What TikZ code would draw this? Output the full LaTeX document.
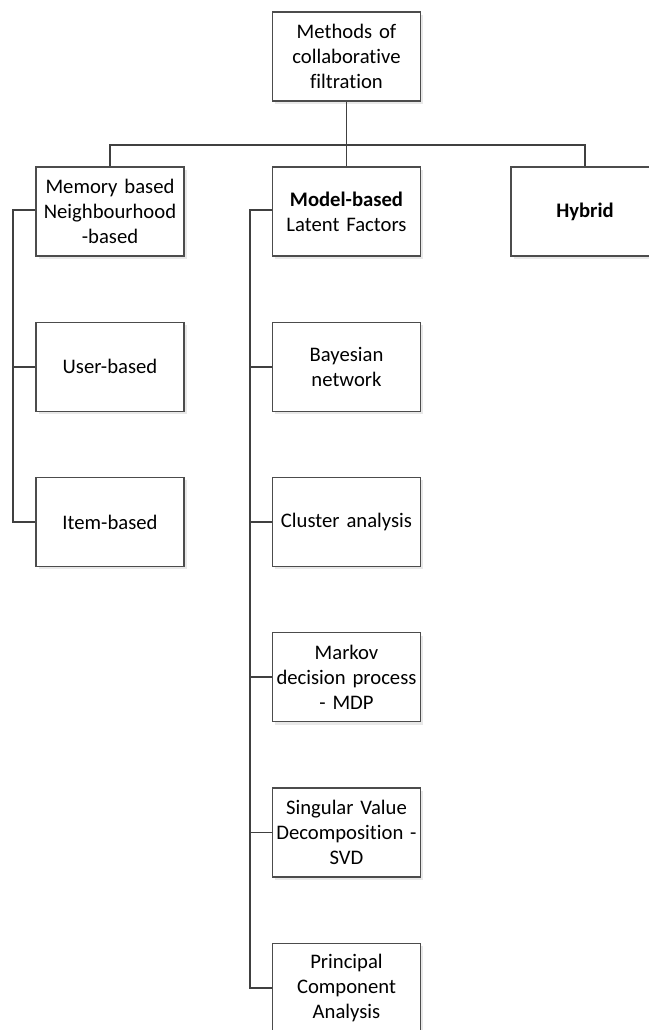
\documentclass[tikz,border=0pt]{standalone}
\usepackage{fontspec}
\setmainfont{Carlito}[Ligatures=NoCommon]
\usetikzlibrary{positioning,shadows}

\tikzset{
  box/.style={draw=black!70, line width=0.8pt, fill=white,
    minimum width=3.7cm, minimum height=2.225cm, text width=3.55cm,
    align=center, inner sep=0pt,
    font=\fontsize{14.7}{17.8}\selectfont,
    drop shadow={shadow xshift=0.07cm, shadow yshift=-0.07cm, fill=black!15, opacity=0.6}},
  link/.style={draw=black!75, line width=1.4pt}
}

\begin{document}
\begin{tikzpicture}[x=0.025cm, y=-0.025cm]
\useasboundingbox (0,0) rectangle (649,1030);

\def\xl{110}
\def\xm{346.5}
\def\xr{585}
\def\dy{155.25}

\def\ya{56.5}
\def\yb{211.5}

% top level
\node[box] (cf) at (\xm, \ya) {Methods of\\collaborative\\filtration};

\node[box] (mem) at (\xl, \yb) {Memory based\\Neighbourhood\\-based};
\node[box] (model) at (\xm, \yb) {\textbf{Model-based}\\Latent Factors};
\node[box] (hyb) at (\xr, \yb) {\textbf{Hybrid}};

% memory based
\node[box] (user) at (\xl, \yb + \dy) {User-based};
\node[box] (item) at (\xl, \yb + 2*\dy) {Item-based};

% model based
\node[box] (bayes) at (\xm, \yb + \dy) {Bayesian\\network};
\node[box] (clust) at (\xm, \yb + 2*\dy) {Cluster analysis};
\node[box] (mdp) at (\xm, \yb + 3*\dy) {Markov\\decision process\\- MDP};
\node[box] (svd) at (\xm, \yb + 4*\dy) {Singular Value\\Decomposition -\\SVD};
\node[box] (pca) at (\xm, \yb + 5*\dy) {Principal\\Component\\Analysis};

% bus
\coordinate (bus) at (\xm, 145);
\draw[link] (cf.south) -- (bus);
\draw[link] (mem.north) |- (bus) -| (hyb.north);
\draw[link] (bus) -- (model.north);

% rails
\coordinate (lrail) at (13, \yb - 1.5);
\coordinate (mrail) at (250, \yb - 1.5);

\draw[link] (mem.west |- lrail) -- (lrail) |- (item.west);
\draw[link] (lrail |- user.west) -- (user.west);

\draw[link] (model.west |- mrail) -- (mrail) |- (pca.west);
\draw[link] (mrail |- bayes.west) -- (bayes.west);
\draw[link] (mrail |- clust.west) -- (clust.west);
\draw[link] (mrail |- mdp.west) -- (mdp.west);
\draw[link] (mrail |- svd.west) -- (svd.west);

\end{tikzpicture}
\end{document}
